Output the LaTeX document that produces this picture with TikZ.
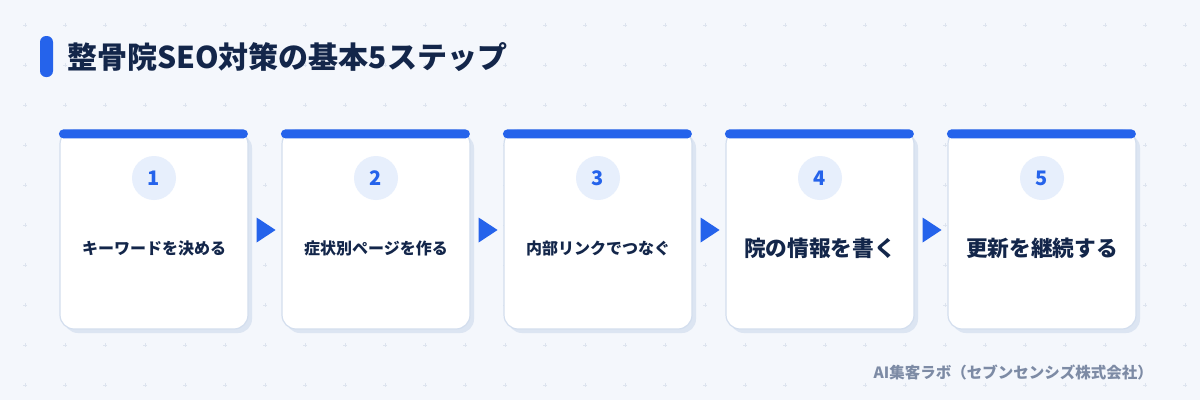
\documentclass[tikz,border=0pt]{standalone}
\usepackage{fontspec}
\setmainfont{Noto Sans CJK JP}
\usetikzlibrary{calc}
\definecolor{bgc}{HTML}{F4F7FC}
\definecolor{accent}{HTML}{2563EB}
\definecolor{darktext}{HTML}{13264A}
\definecolor{circfill}{HTML}{E7EFFC}
\definecolor{bordc}{HTML}{D3DEEE}
\definecolor{shadc}{HTML}{DCE5F2}
\definecolor{plusc}{HTML}{DDE4EF}
\definecolor{footc}{HTML}{7D8BA5}
\tikzset{
  plusmark/.style={draw=plusc, line width=0.7pt},
  cardbox/.style={draw=bordc, line width=1.2pt, fill=white, rounded corners=14pt, minimum width=188pt, minimum height=199pt, inner sep=0pt},
  shadowbox/.style={fill=shadc, rounded corners=14pt, minimum width=188pt, minimum height=199pt, inner sep=0pt},
  topbar/.style={fill=accent, rounded corners=4.5pt},
  numcirc/.style={circle, fill=circfill, minimum size=44pt, inner sep=0pt, text=accent, font=\fontsize{20}{24}\selectfont\bfseries},
  smalllab/.style={text=darktext, font=\fontsize{16}{19}\selectfont\bfseries, inner sep=0pt},
  biglab/.style={text=darktext, font=\fontsize{21.7}{26}\selectfont\bfseries, inner sep=0pt},
  steparrow/.style={fill=accent},
}
\begin{document}
\begin{tikzpicture}[x=1pt,y=-1pt]
\fill[bgc] (0,0) rectangle (1200,400);
\useasboundingbox (0,0) rectangle (1200,400);
\foreach \i in {0,...,29} \foreach \j in {0,...,9} {
  \draw[plusmark] ({25+40*\i-2},{25+40*\j}) -- ++(4,0) ({25+40*\i},{25+40*\j-2}) -- ++(0,4);
}
% title
\fill[accent, rounded corners=6pt] (40,36) rectangle (53,77);
\node[anchor=west, inner sep=0pt, text=darktext, font=\fontsize{30}{34}\selectfont\bfseries] (title) at (67,57.5) {整骨院SEO対策の基本5ステップ};
% cards
\foreach \k/\lab/\sty in {1/キーワードを決める/smalllab, 2/症状別ページを作る/smalllab, 3/内部リンクでつなぐ/smalllab, 4/院の情報を書く/biglab, 5/更新を継続する/biglab} {
  \pgfmathsetmacro{\cx}{154+222*(\k-1)}
  \node[shadowbox] (s\k) at (\cx+4, 233.5) {};
  \node[cardbox] (c\k) at (\cx, 229.5) {};
  \fill[topbar] (c\k.north west) ++(-0.5,0) rectangle ++(189,9);
  \node[numcirc] (n\k) at (\cx, 178) {\k};
  \node[\sty] (t\k) at (\cx, 248.5) {\lab};
}
% arrows between cards
\foreach \a/\b in {1/2,2/3,3/4,4/5} {
  \fill[steparrow] ($(c\a.east)+(8,-12)$) -- ($(c\a.east)+(8,13)$) -- ($(c\a.east)+(27,0.5)$) -- cycle;
}
% footer
\node[anchor=east, inner sep=0pt, text=footc, font=\fontsize{15.5}{18}\selectfont\bfseries] (foot) at (1153,372.5) {AI集客ラボ（セブンセンシズ株式会社）};
\end{tikzpicture}
\end{document}
